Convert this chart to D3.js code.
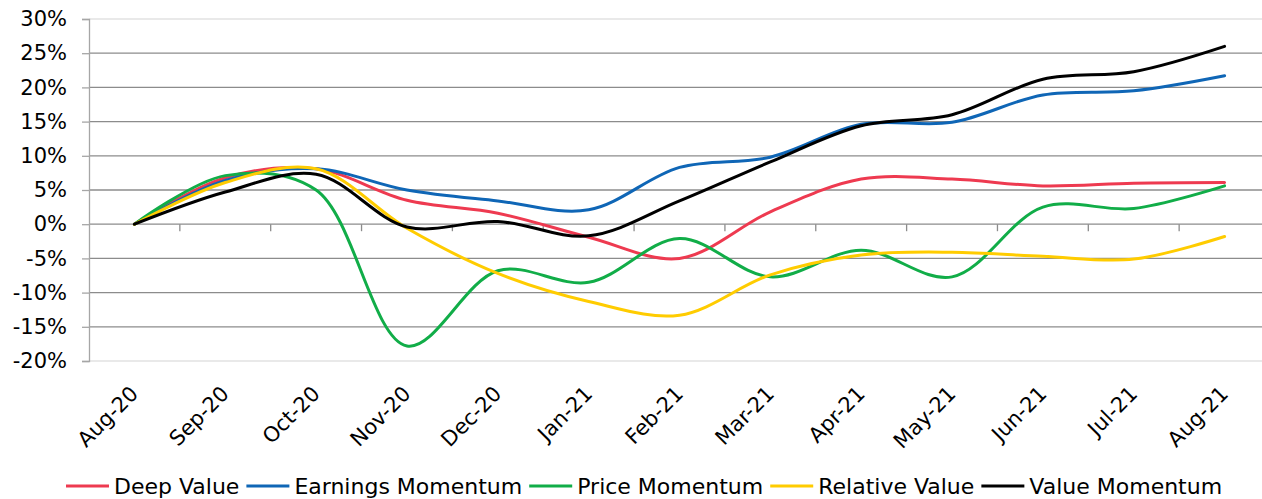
<!DOCTYPE html>
<html>
<head>
<meta charset="utf-8">
<script src="https://cdn.jsdelivr.net/npm/d3@7"></script>
<style>
  body { margin: 0; background: #fff; }
  svg { display: block; }
  text { font-family: Verdana, "DejaVu Sans", sans-serif; fill: #000; }
</style>
</head>
<body>
<svg id="chart"></svg>
<script>
const months = ["Aug-20","Sep-20","Oct-20","Nov-20","Dec-20","Jan-21","Feb-21",
                "Mar-21","Apr-21","May-21","Jun-21","Jul-21","Aug-21"];
const yTicks = [-20,-15,-10,-5,0,5,10,15,20,25,30];

const deepValue       = [0, 6.8, 8.1, 3.5, 1.6, -1.9, -5.0, 1.8, 6.6, 6.6, 5.6, 6.0, 6.1];
const earningsMomentum= [0, 6.4, 8.1, 5.0, 3.4, 2.1, 8.3, 9.8, 14.6, 14.9, 18.9, 19.5, 21.7];
const priceMomentum   = [0, 7.1, 5.0, -17.8, -6.8, -8.5, -2.1, -7.7, -3.8, -7.7, 2.5, 2.3, 5.6];
const relativeValue   = [0, 6.1, 8.1, -0.6, -7.2, -11.3, -13.3, -7.4, -4.5, -4.1, -4.7, -5.1, -1.8];
const valueMomentum   = [0, 4.7, 7.3, -0.4, 0.4, -1.7, 3.4, 9.1, 14.4, 16.0, 21.2, 22.3, 26.0];

const seriesNames  = ["Deep Value","Earnings Momentum","Price Momentum","Relative Value","Value Momentum"];
const seriesValues = [deepValue, earningsMomentum, priceMomentum, relativeValue, valueMomentum];
const seriesColors = ["#ee3a50","#0f66b6","#11ad48","#ffcc00","#000000"];

const w = 1262, h = 499;
const padL = 89, padR = 1270, padT = 19, padB = 361;

const svg = d3.select("#chart").attr("width", w).attr("height", h);

const x = d3.scaleBand().domain(months).range([padL, padR]);
const y = d3.scaleLinear().domain([-20, 30]).range([padB, padT]);
const cx = d => x(d) + x.bandwidth() / 2;

// gridlines
svg.append("g")
  .selectAll("line")
  .data(yTicks)
  .join("line")
    .attr("x1", padL).attr("x2", padR)
    .attr("y1", d => y(d)).attr("y2", d => y(d))
    .attr("stroke", d => (d === 30 || d === -20) ? "#e2e2e2" : "#8c8c8c")
    .attr("stroke-width", 1.3);

// y axis
const yAxis = d3.axisLeft(y).tickValues(yTicks).tickSize(7).tickPadding(15).tickFormat(d => d + "%");
const gy = svg.append("g").attr("transform", "translate(" + padL + ",0)").call(yAxis);
gy.select(".domain").attr("stroke", "#a6a6a6").attr("stroke-width", 1.3);
gy.selectAll(".tick line").attr("stroke", "#a6a6a6").attr("stroke-width", 1.3);
gy.selectAll("text").attr("font-size", "21px").attr("font-family", null).attr("fill", "#000");

// category boundary ticks on the zero line
const bounds = months.map(m => x(m)).concat([padR]);
svg.append("g")
  .selectAll("line")
  .data(bounds.slice(1))
  .join("line")
    .attr("x1", d => d).attr("x2", d => d)
    .attr("y1", y(0)).attr("y2", y(0) + 7)
    .attr("stroke", "#8c8c8c").attr("stroke-width", 1.3);

// x labels
svg.append("g")
  .selectAll("text")
  .data(months)
  .join("text")
    .attr("text-anchor", "end")
    .attr("font-size", "21px")
    .attr("transform", d => "translate(" + (cx(d) + 5) + "," + (padB + 34) + ") rotate(-45)")
    .text(d => d);

// lines
const line = d3.line()
  .x((d, i) => cx(months[i]))
  .y(d => y(d))
  .curve(d3.curveCatmullRom.alpha(0.5));

svg.append("g")
  .selectAll("path")
  .data(seriesValues)
  .join("path")
    .attr("d", d => line(d))
    .attr("fill", "none")
    .attr("stroke", (d, i) => seriesColors[i])
    .attr("stroke-width", 3)
    .attr("stroke-linecap", "round")
    .attr("stroke-linejoin", "round");

// legend
const legend = svg.append("g");
let lx = 66;
const ly = 486;
seriesNames.forEach((name, i) => {
  legend.append("line")
    .attr("x1", lx).attr("x2", lx + 43)
    .attr("y1", ly).attr("y2", ly)
    .attr("stroke", seriesColors[i]).attr("stroke-width", 3);
  const t = legend.append("text")
    .attr("x", lx + 48).attr("y", ly + 8)
    .attr("font-size", "22px")
    .text(name);
  lx += 48 + t.node().getComputedTextLength() + 7;
});
</script>
</body>
</html>
